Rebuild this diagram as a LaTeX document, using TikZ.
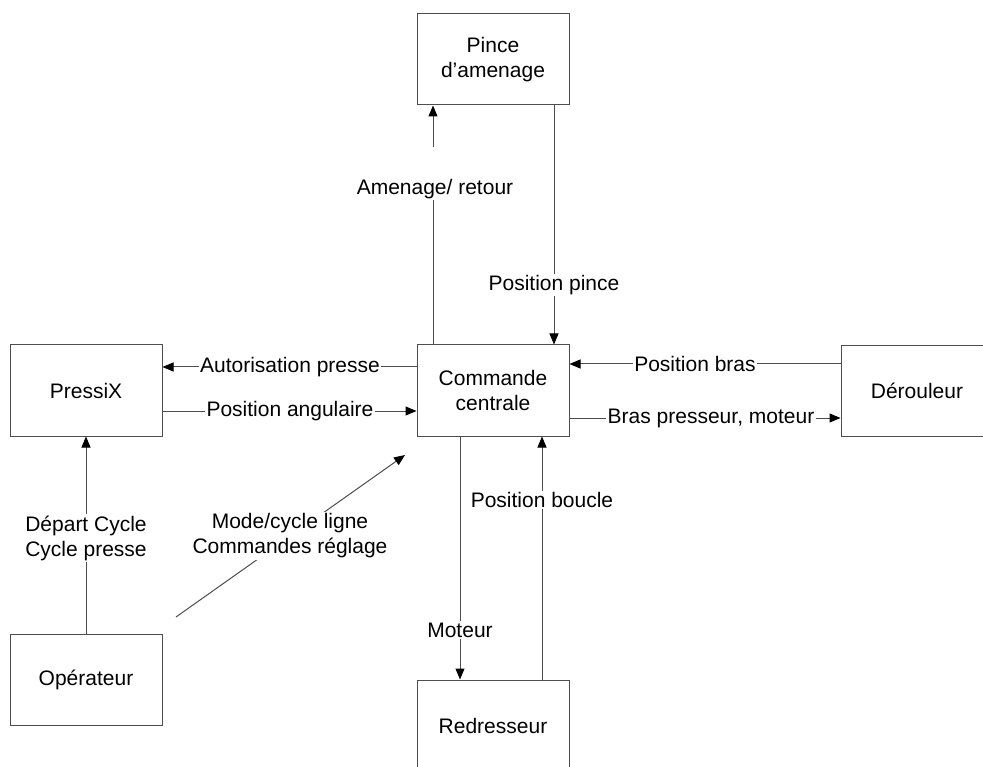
\documentclass[tikz,border=0pt]{standalone}
\usepackage{fontspec}
\setmainfont{Liberation Sans}
\usetikzlibrary{arrows.meta}
\definecolor{linec}{HTML}{4D4D4D}
\newcommand{\fs}{\fontsize{21}{25}\selectfont}
\begin{document}
\begin{tikzpicture}[x=1pt,y=-1pt,
  box/.style={draw=linec, line width=1pt, minimum width=152pt, minimum height=91pt, inner sep=0pt, align=center, font=\fs},
  conn/.style={draw=linec, line width=1pt},
  arr/.style={conn, -{Triangle[length=11pt,width=9pt,color=black]}},
  lbl/.style={fill=white, inner sep=1.5pt, align=center, font=\fs}]
\useasboundingbox (0,0) rectangle (983,767);
\clip (0,0) rectangle (983,767);
\fill[white] (0,0) rectangle (983,767);

% boxes
\node[box] (pince) at (493,59.5) {Pince\\d’amenage};
\node[box] (pressix) at (86,390.5) {PressiX};
\node[box] (cc) at (493,390.5) {Commande\\centrale};
\node[box] (der) at (917,391) {Dérouleur};
\node[box] (op) at (86,680) {Opérateur};
\node[box] (red) at (493,725.5) {Redresseur};

% reference coordinates
\coordinate (amA) at (433,200);
\coordinate (amB) at (433,147);
\coordinate (pp) at (554,0);
\coordinate (au) at (0,367);
\coordinate (pa) at (0,411);
\coordinate (pb) at (0,364);
\coordinate (bp) at (0,418);
\coordinate (mo) at (460,0);
\coordinate (bo) at (542,0);
\coordinate (dc) at (86,0);
\coordinate (d1) at (176,617);
\coordinate (d2) at (405,455);

% connectors
\draw[conn] (cc.north -| amA) -- (amA);
\draw[arr] (amB) -- (pince.south -| amB);
\draw[arr] (pince.south -| pp) -- (cc.north -| pp);
\draw[arr] (cc.west |- au) -- (pressix.east |- au);
\draw[arr] (pressix.east |- pa) -- (cc.west |- pa);
\draw[arr] (der.west |- pb) -- (cc.east |- pb);
\draw[arr] (cc.east |- bp) -- (der.west |- bp);
\draw[arr] (cc.south -| mo) -- (red.north -| mo);
\draw[arr] (red.north -| bo) -- (cc.south -| bo);
\draw[arr] (op.north) -- (pressix.south);
\draw[arr] (d1) -- (d2);

% labels
\node[font=\fs, inner sep=0pt] (lam) at (435,189) {Amenage/ retour};
\node[lbl] (lpp) at (554,285) {Position pince};
\node[lbl] (lau) at (290,367) {Autorisation presse};
\node[lbl] (lpa) at (290,411) {Position angulaire};
\node[lbl] (lpb) at (695,364) {Position bras};
\node[lbl] (lbp) at (711,418) {Bras presseur, moteur};
\node[lbl] (lmo) at (460,630) {Moteur};
\node[lbl] (lbo) at (542,500) {Position boucle};
\node[lbl] (ldc) at (86,538) {Départ Cycle\\Cycle presse};
\node[lbl] (lmc) at (290,536) {Mode/cycle ligne\\Commandes réglage};
\end{tikzpicture}
\end{document}
